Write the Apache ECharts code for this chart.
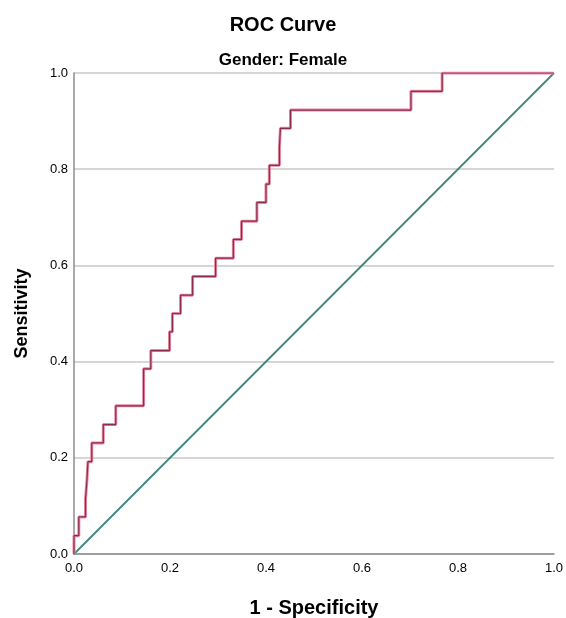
<!DOCTYPE html>
<html>
  <head>
    <title></title>
    <meta charset="UTF-8" />
    <script src="https://cdn.jsdelivr.net/npm/echarts@6/dist/echarts.min.js"></script>
    <style>
      html, body { margin: 0; padding: 0; background: #fff; }
    </style>
  </head>
  <body>
    <div id="main"></div>
    <script>
      const width = 566;
      const height = 618;
      const main = document.getElementById('main');
      main.style.width = `${width}px`;
      main.style.height = `${height}px`;

      // ROC step curve vertices (1 - specificity, sensitivity)
      const fprSteps = [
        0, 0, 0.01, 0.01, 0.024, 0.024, 0.027, 0.027, 0.029, 0.029,
        0.037, 0.037, 0.061, 0.061, 0.087, 0.087, 0.145, 0.145, 0.16, 0.16,
        0.199, 0.199, 0.205, 0.205, 0.222, 0.222, 0.247, 0.247, 0.295, 0.295,
        0.332, 0.332, 0.349, 0.349, 0.381, 0.381, 0.4, 0.4, 0.407, 0.407,
        0.428, 0.428, 0.43, 0.43, 0.451, 0.451, 0.702, 0.702, 0.767, 0.767, 1
      ];
      const tprSteps = [
        0, 0.038, 0.038, 0.077, 0.077, 0.115, 0.115, 0.154, 0.154, 0.192,
        0.192, 0.231, 0.231, 0.269, 0.269, 0.308, 0.308, 0.385, 0.385, 0.423,
        0.423, 0.462, 0.462, 0.5, 0.5, 0.538, 0.538, 0.577, 0.577, 0.615,
        0.615, 0.654, 0.654, 0.692, 0.692, 0.731, 0.731, 0.769, 0.769, 0.808,
        0.808, 0.846, 0.846, 0.885, 0.885, 0.923, 0.923, 0.962, 0.962, 1, 1
      ];
      const refX = [0, 1];
      const refY = [0, 1];
      const tickValues = [0, 0.2, 0.4, 0.6, 0.8, 1.0];

      const rocData = fprSteps.map((x, i) => [x, tprSteps[i]]);
      const refData = refX.map((x, i) => [x, refY[i]]);

      const font = '"Liberation Sans", Arial, sans-serif';
      const myChart = echarts.init(main, null, { renderer: 'canvas' });
      const option = {
        backgroundColor: '#fff',
        animation: false,
        title: [
          {
            text: 'ROC Curve',
            left: 'center',
            top: 10,
            textStyle: { fontFamily: font, fontSize: 20, fontWeight: 'bold', color: '#000' },
          },
          {
            text: 'Gender: Female',
            left: 'center',
            top: 47,
            textStyle: { fontFamily: font, fontSize: 17, fontWeight: 'bold', color: '#000' },
          },
        ],
        grid: { left: 74, right: 12, top: 73, bottom: 64, outerBoundsMode: 'none' },
        xAxis: {
          type: 'value',
          min: 0,
          max: 1,
          interval: 0.2,
          name: '1 - Specificity',
          nameLocation: 'middle',
          nameGap: 44,
          nameTextStyle: { fontFamily: font, fontSize: 20, fontWeight: 'bold', color: '#000' },
          axisLine: { show: true, lineStyle: { color: '#8c8c8c', width: 1.5 } },
          axisTick: { show: false },
          splitLine: { show: false },
          axisLabel: {
            margin: 8,
            fontFamily: font,
            fontSize: 13,
            color: '#000',
            formatter: (v) => v.toFixed(1),
          },
        },
        yAxis: {
          type: 'value',
          min: 0,
          max: 1,
          interval: 0.2,
          name: 'Sensitivity',
          nameLocation: 'middle',
          nameGap: 43,
          nameTextStyle: { fontFamily: font, fontSize: 18, fontWeight: 'bold', color: '#000' },
          axisLine: { show: true, lineStyle: { color: '#8c8c8c', width: 1.5 } },
          axisTick: { show: false },
          splitLine: { show: true, lineStyle: { color: '#c8c8c8', width: 1.5 } },
          axisLabel: {
            margin: 6,
            fontFamily: font,
            fontSize: 13,
            color: '#000',
            formatter: (v) => (tickValues.includes(v) ? v.toFixed(1) : ''),
          },
        },
        series: [
          {
            type: 'line',
            data: refData,
            symbol: 'none',
            lineStyle: { color: '#3f877d', width: 1.8 },
            z: 2,
          },
          {
            type: 'line',
            data: rocData,
            symbol: 'none',
            lineStyle: { color: '#e58aa3', width: 3 },
            z: 3,
          },
          {
            type: 'line',
            data: rocData,
            symbol: 'none',
            lineStyle: { color: '#8e2a4b', width: 1.2 },
            z: 4,
          },
        ],
      };
      myChart.setOption(option);
    </script>
  </body>
</html>
